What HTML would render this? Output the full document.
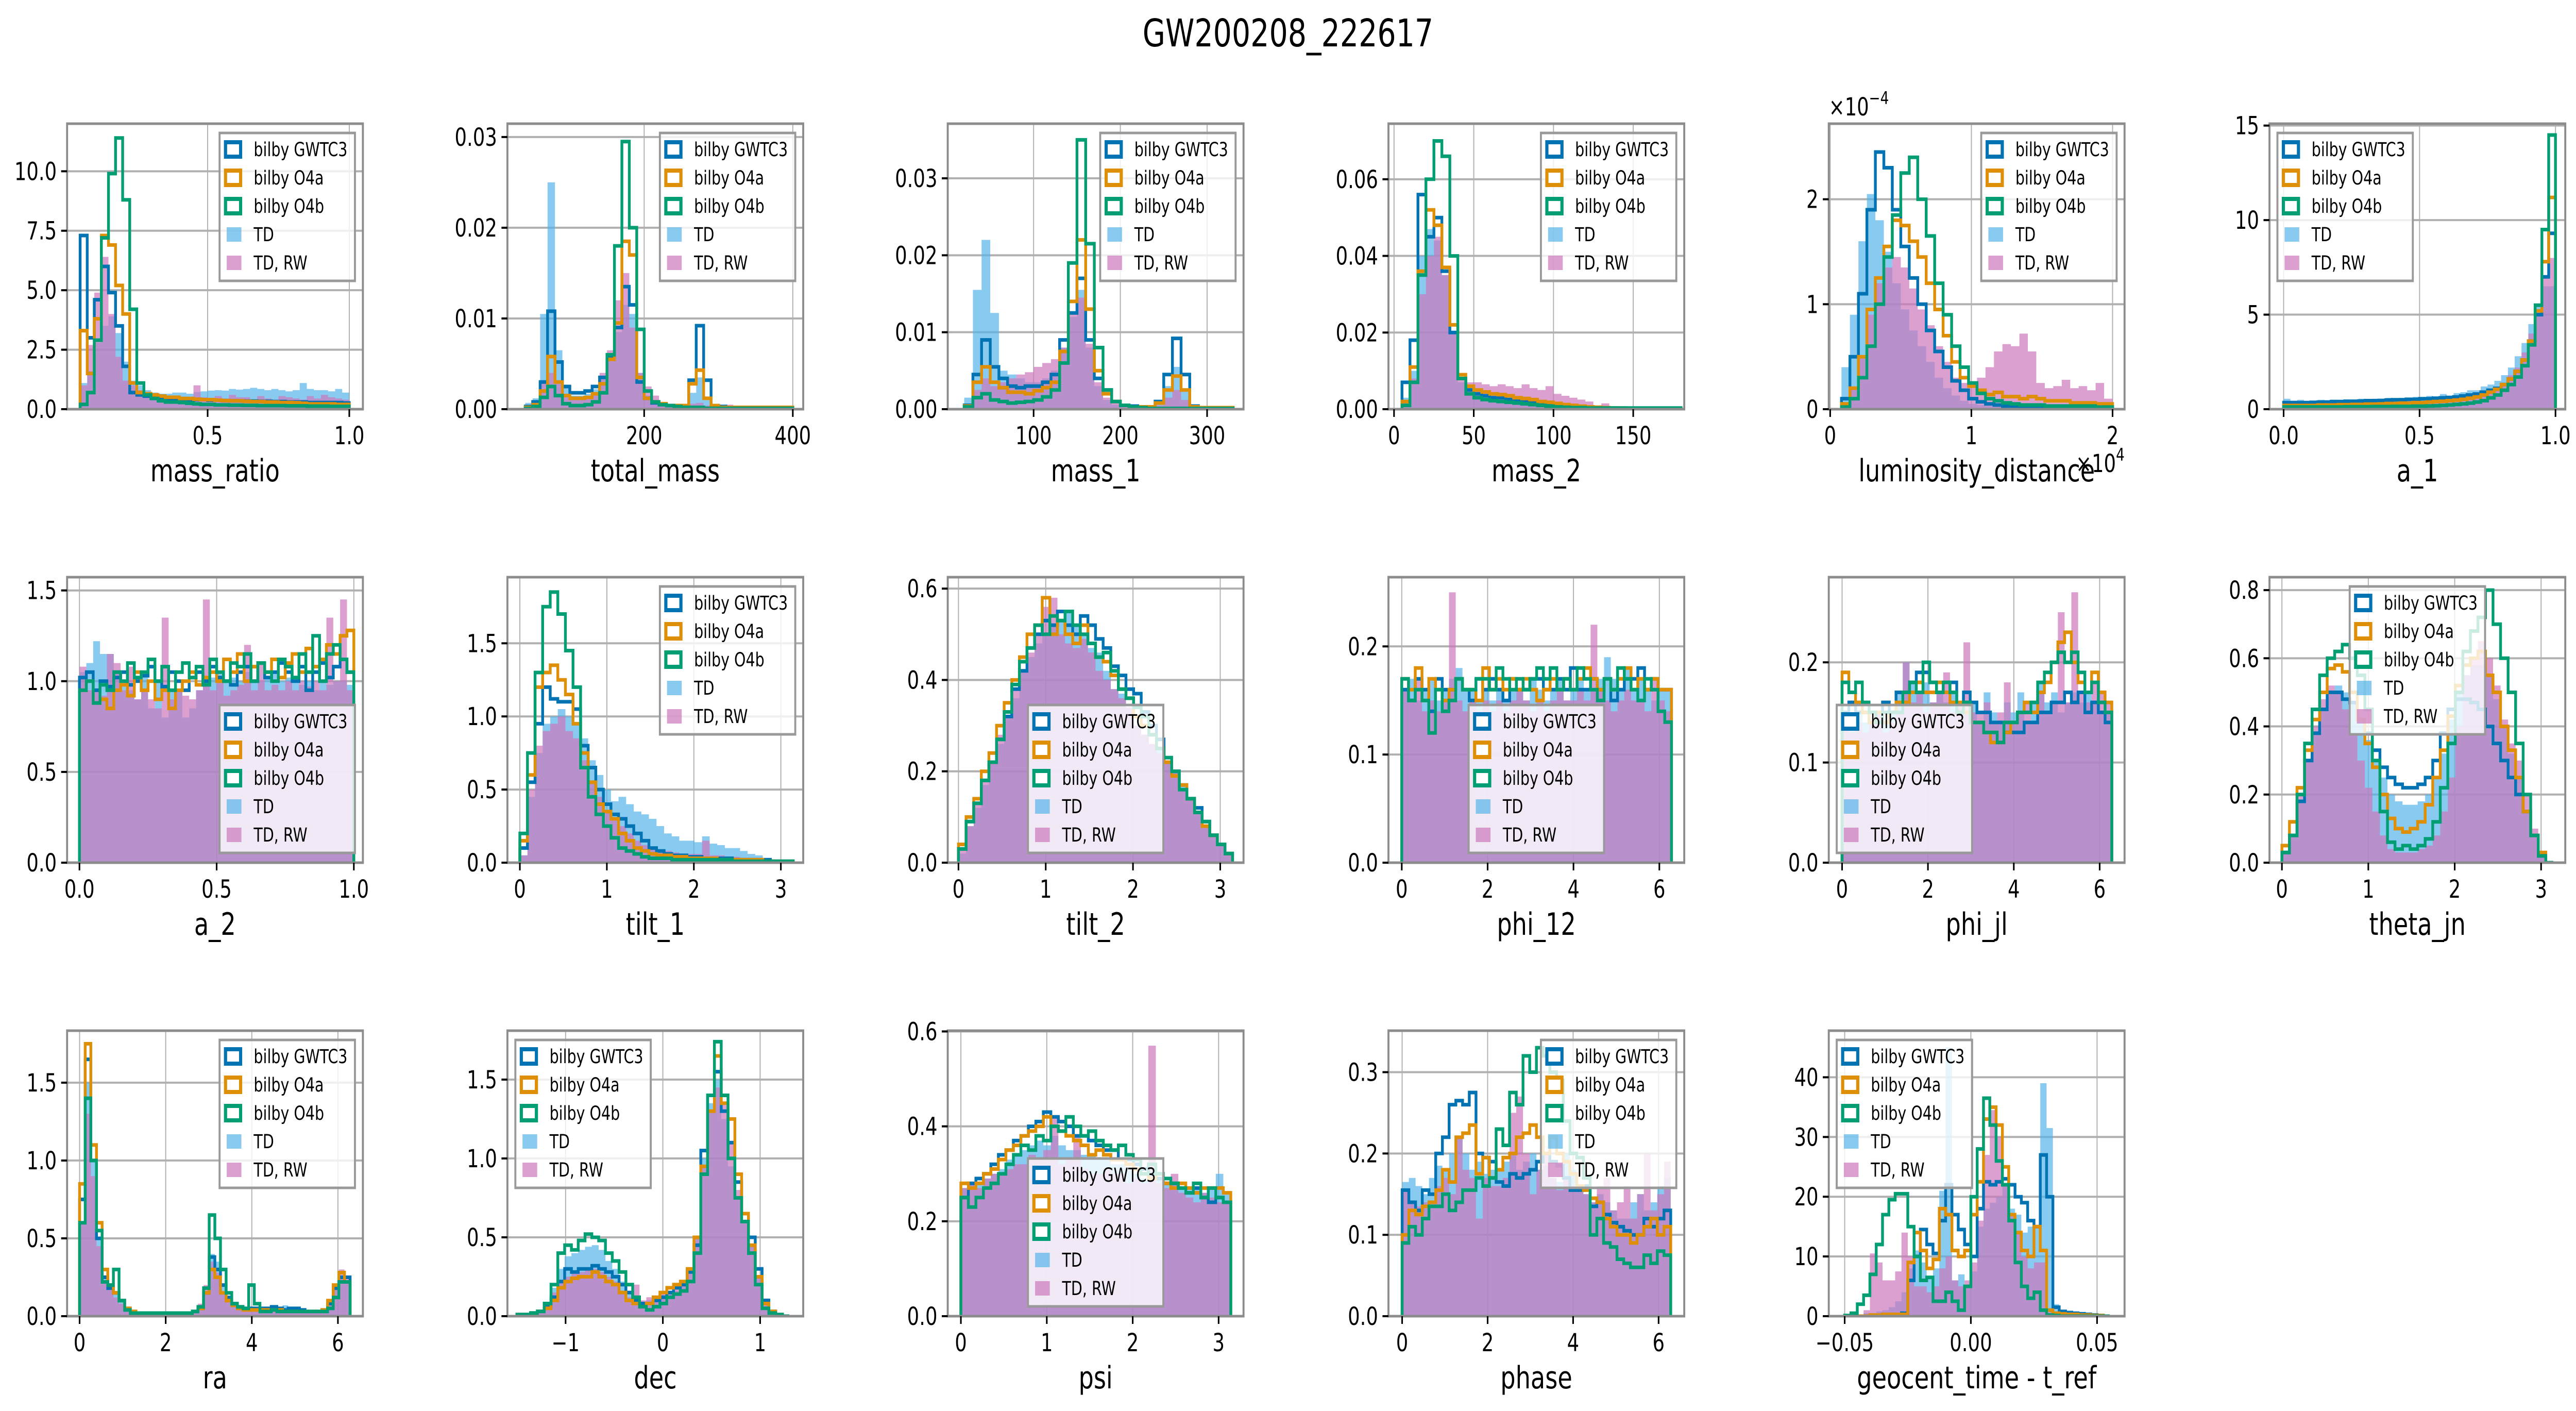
<!DOCTYPE html>
<html>
<head>
<meta charset="utf-8">
<style>
html,body{margin:0;padding:0;background:#fff;width:100%;height:100%;overflow:hidden;}
svg{display:block;width:100vw;height:100vh;}
text{font-family:"DejaVu Sans","Liberation Sans",sans-serif;}
</style>
</head>
<body>
<svg id="fig" xmlns="http://www.w3.org/2000/svg" viewBox="0 0 6488 2738" preserveAspectRatio="none">
<rect x="0" y="0" width="6488" height="2738" fill="#ffffff"/>
<text x="3244" y="90" font-size="74" text-anchor="middle" fill="#000">GW200208_222617</text>
</svg>
<script>
// ---------- data (histogram densities per bin) ----------
const massRatio_GWTC3=[7.3,3.0,4.6,6.0,4.9,3.5,1.8,0.7,0.6,0.55,0.5,0.5,0.45,0.45,0.42,0.4,0.4,0.4,0.38,0.38,0.36,0.35,0.35,0.34,0.34,0.33,0.33,0.32,0.32,0.3,0.3,0.3,0.28,0.28,0.28,0.28,0.28,0.26];
const massRatio_O4a=[3.3,1.5,3.8,7.3,6.9,5.2,4.0,1.1,0.7,0.65,0.6,0.55,0.5,0.5,0.45,0.45,0.42,0.4,0.4,0.38,0.36,0.35,0.35,0.33,0.32,0.32,0.3,0.3,0.28,0.28,0.27,0.25,0.22,0.22,0.22,0.22,0.2,0.2];
const massRatio_O4b=[0.2,0.7,2.9,7.2,9.9,11.4,8.8,4.2,1.1,0.6,0.45,0.35,0.3,0.3,0.28,0.25,0.22,0.2,0.2,0.18,0.18,0.17,0.17,0.16,0.16,0.15,0.15,0.15,0.15,0.14,0.14,0.14,0.13,0.13,0.13,0.12,0.12,0.12];
const massRatio_TD=[1.1,1.6,2.8,3.5,3.9,3.2,2.0,1.2,1.0,0.8,0.7,0.65,0.65,0.7,0.7,0.65,0.72,0.75,0.78,0.8,0.78,0.85,0.82,0.85,0.9,0.85,0.8,0.85,0.8,0.75,0.8,1.1,0.85,0.8,0.8,0.75,0.85,0.7];
const massRatio_TDRW=[1.0,2.7,4.9,6.4,4.0,2.2,1.2,1.0,0.8,0.7,0.6,0.5,0.5,0.55,0.5,0.45,1.0,0.5,0.45,0.55,0.45,0.6,0.5,0.5,0.4,0.55,0.45,0.4,0.55,0.5,0.45,0.4,0.55,0.45,0.6,0.5,0.45,0.4];

const totalMass_GWTC3=[0.0003,0.0008,0.003,0.0108,0.0052,0.0025,0.0018,0.0018,0.002,0.0025,0.0035,0.0058,0.009,0.0135,0.0115,0.003,0.0012,0.0007,0.0005,0.0004,0.0003,0.0004,0.0032,0.0092,0.0032,0.0004,0.0003,0.0002,0.0002,0.0002,0.0002,0.0002,0.0002,0.0002,0.0002,0.0002];
const totalMass_O4a=[0.0002,0.0005,0.002,0.0058,0.003,0.0015,0.0012,0.0012,0.0013,0.0017,0.0028,0.0055,0.0095,0.0185,0.017,0.0035,0.0012,0.0008,0.0006,0.0004,0.0004,0.0004,0.0028,0.0043,0.0012,0.0004,0.0002,0.0002,0.0002,0.0002,0.0002,0.0002,0.0002,0.0002,0.0002,0.0002];
const totalMass_O4b=[0.0001,0.0003,0.0013,0.0025,0.0015,0.0006,0.0004,0.0004,0.0005,0.0008,0.0018,0.006,0.018,0.0295,0.02,0.0088,0.002,0.0008,0.0005,0.0004,0.0003,0.0002,0.0002,0.0002,0.0001,0.0001,0.0001,0.0001,0.0001,0.0001,0.0001,0.0001,0.0001,0.0001,0.0001,0.0001];
const totalMass_TD=[0.0007,0.0012,0.0105,0.025,0.0065,0.0025,0.0015,0.0015,0.0017,0.0022,0.0035,0.006,0.0085,0.0115,0.0105,0.004,0.0015,0.001,0.0007,0.0005,0.0004,0.0004,0.0018,0.0035,0.001,0.0004,0.0002,0.0002,0.0002,0.0002,0.0002,0.0002,0.0002,0.0002,0.0002,0.0002];
const totalMass_TDRW=[0.0002,0.0005,0.003,0.004,0.003,0.0013,0.001,0.001,0.0012,0.0018,0.004,0.0065,0.012,0.015,0.009,0.004,0.0025,0.0015,0.0008,0.0006,0.0006,0.0004,0.0006,0.0007,0.0004,0.0003,0.0002,0.0005,0.0004,0.0002,0.0002,0.0002,0.0002,0.0002,0.0002,0.0002];

const mass1_GWTC3=[0.0005,0.0045,0.009,0.0055,0.004,0.003,0.0028,0.003,0.003,0.0035,0.0045,0.009,0.0125,0.017,0.009,0.004,0.0025,0.001,0.0005,0.0004,0.0003,0.0003,0.001,0.0045,0.0092,0.0045,0.0004,0.0002,0.0002,0.0002,0.0002];
const mass1_O4a=[0.0004,0.0035,0.0055,0.0035,0.0028,0.0022,0.0022,0.002,0.0024,0.0028,0.0035,0.0075,0.014,0.022,0.013,0.005,0.002,0.001,0.0005,0.0003,0.0003,0.0003,0.0008,0.0025,0.0043,0.0025,0.0003,0.0002,0.0002,0.0002,0.0002];
const mass1_O4b=[0.0003,0.0015,0.002,0.0012,0.001,0.0008,0.0009,0.001,0.0012,0.0016,0.0025,0.006,0.019,0.035,0.0215,0.008,0.0025,0.001,0.0005,0.0003,0.0002,0.0001,0.0001,0.0001,0.0001,0.0001,0.0001,0.0001,0.0001,0.0001,0.0001];
const mass1_TD=[0.0015,0.0155,0.022,0.0125,0.005,0.0045,0.004,0.0035,0.0035,0.004,0.005,0.008,0.012,0.0155,0.008,0.003,0.0012,0.0006,0.0004,0.0003,0.0003,0.0003,0.0008,0.003,0.0055,0.0025,0.0003,0.0002,0.0002,0.0002,0.0002];
const mass1_TDRW=[0.0004,0.0025,0.004,0.003,0.0035,0.004,0.0045,0.0048,0.0055,0.006,0.0065,0.008,0.0125,0.0145,0.0085,0.0035,0.0015,0.0008,0.0006,0.0004,0.0003,0.0003,0.0005,0.0015,0.0025,0.0012,0.0003,0.0002,0.0002,0.0002,0.0002];

const mass2_GWTC3=[0.007,0.018,0.056,0.045,0.05,0.036,0.02,0.008,0.005,0.004,0.0035,0.003,0.003,0.0025,0.0025,0.002,0.002,0.0018,0.0015,0.0012,0.001,0.0008,0.0006,0.0005,0.0004,0.0003,0.0003,0.0002,0.0002,0.0002,0.0002,0.0001,0.0001,0.0001,0.0001];
const mass2_O4a=[0.002,0.011,0.036,0.052,0.048,0.037,0.022,0.009,0.006,0.005,0.0045,0.004,0.0038,0.0035,0.003,0.0028,0.0025,0.002,0.0018,0.0015,0.0012,0.001,0.0008,0.0006,0.0005,0.0004,0.0003,0.0003,0.0002,0.0002,0.0002,0.0001,0.0001,0.0001,0.0001];
const mass2_O4b=[0.001,0.007,0.035,0.06,0.07,0.066,0.04,0.008,0.004,0.003,0.0025,0.0022,0.002,0.0018,0.0016,0.0014,0.0012,0.001,0.0008,0.0006,0.0005,0.0004,0.0004,0.0003,0.0003,0.0003,0.0003,0.0003,0.0003,0.0003,0.0003,0.0003,0.0003,0.0003,0.0003];
const mass2_TD=[0.003,0.01,0.04,0.047,0.044,0.035,0.02,0.007,0.004,0.0035,0.003,0.003,0.0028,0.0025,0.0025,0.002,0.0018,0.0015,0.0012,0.001,0.0008,0.0006,0.0005,0.0004,0.0003,0.0003,0.0002,0.0002,0.0002,0.0001,0.0001,0.0001,0.0001,0.0001,0.0001];
const mass2_TDRW=[0.002,0.008,0.03,0.04,0.045,0.035,0.02,0.008,0.007,0.007,0.0065,0.006,0.0065,0.006,0.0055,0.0065,0.0055,0.005,0.006,0.004,0.0035,0.003,0.0025,0.002,0.001,0.0015,0.0005,0.0004,0.0003,0.0002,0.0001,0.0001,0.0001,0.0001,0.0001];

const lumDist_GWTC3=[0.1,0.5,1.1,1.9,2.45,2.3,1.9,1.55,1.25,1.0,0.75,0.55,0.4,0.27,0.18,0.1,0.07,0.05,0.04,0.03,0.03,0.02,0.02,0.02,0.02,0.02,0.02,0.02,0.02,0.02,0.02,0.02];
const lumDist_O4a=[0.05,0.2,0.5,0.95,1.25,1.55,1.8,1.75,1.6,1.45,1.2,0.95,0.7,0.45,0.3,0.22,0.18,0.14,0.16,0.12,0.12,0.1,0.12,0.1,0.08,0.08,0.08,0.06,0.06,0.06,0.05,0.05];
const lumDist_O4b=[0.02,0.1,0.3,0.6,1.0,1.45,1.85,2.25,2.4,2.0,1.65,1.2,0.9,0.6,0.4,0.25,0.15,0.1,0.08,0.06,0.05,0.04,0.04,0.04,0.03,0.03,0.03,0.03,0.03,0.03,0.02,0.02];
const lumDist_TD=[0.4,0.9,1.6,2.05,1.8,1.5,1.2,0.95,0.75,0.6,0.45,0.3,0.2,0.13,0.08,0.05,0.04,0.03,0.03,0.02,0.02,0.02,0.02,0.02,0.02,0.02,0.02,0.02,0.02,0.02,0.02,0.02];
const lumDist_TDRW=[0.05,0.2,0.5,0.9,1.2,1.35,1.45,1.35,1.15,0.95,0.8,0.6,0.45,0.3,0.25,0.22,0.3,0.4,0.55,0.62,0.6,0.72,0.55,0.25,0.2,0.22,0.28,0.2,0.22,0.18,0.25,0.1];

const a1_GWTC3=[0.35,0.35,0.35,0.35,0.36,0.37,0.38,0.4,0.4,0.42,0.42,0.43,0.45,0.45,0.46,0.48,0.5,0.5,0.52,0.52,0.55,0.55,0.58,0.6,0.62,0.65,0.7,0.75,0.8,0.9,1.0,1.1,1.3,1.6,2.0,2.6,3.6,5.0,7.0,9.3];
const a1_O4a=[0.2,0.2,0.2,0.2,0.2,0.22,0.22,0.22,0.24,0.24,0.25,0.25,0.27,0.27,0.28,0.3,0.3,0.32,0.32,0.35,0.35,0.38,0.4,0.42,0.45,0.48,0.52,0.58,0.65,0.75,0.9,1.05,1.3,1.6,2.0,2.6,3.6,5.2,7.8,11.2];
const a1_O4b=[0.12,0.12,0.12,0.12,0.12,0.12,0.12,0.12,0.12,0.13,0.13,0.13,0.13,0.14,0.14,0.14,0.15,0.15,0.15,0.16,0.16,0.17,0.18,0.2,0.22,0.25,0.28,0.32,0.38,0.45,0.6,0.75,1.0,1.3,1.7,2.3,3.4,5.5,9.5,14.5];
const a1_TD=[0.55,0.45,0.5,0.4,0.45,0.5,0.45,0.5,0.45,0.5,0.5,0.55,0.5,0.55,0.5,0.6,0.55,0.6,0.55,0.65,0.6,0.7,0.65,0.8,0.7,0.85,0.9,1.0,1.0,1.2,1.3,1.5,1.8,2.2,2.8,3.5,4.5,5.5,6.5,6.5];
const a1_TDRW=[0.2,0.3,0.2,0.25,0.2,0.25,0.2,0.25,0.2,0.3,0.25,0.3,0.25,0.3,0.3,0.35,0.3,0.35,0.3,0.4,0.35,0.4,0.4,0.45,0.45,0.5,0.55,0.6,0.65,0.75,0.9,1.1,1.4,1.8,2.2,3.0,4.0,5.0,7.0,8.0];

const a2_GWTC3=[1.02,1.05,0.95,1.0,0.97,1.02,1.05,0.98,1.0,1.03,1.08,1.0,0.97,1.05,1.0,0.95,1.02,1.05,1.0,1.08,1.02,1.0,0.98,1.05,1.08,1.0,1.1,1.02,1.05,1.1,1.05,1.0,1.08,0.95,1.05,1.1,1.02,1.08,1.12,1.05];
const a2_O4a=[0.95,1.0,0.88,0.9,0.85,0.95,0.98,0.92,1.05,0.95,1.0,0.9,0.95,0.85,0.95,1.0,1.05,0.98,1.02,1.05,1.0,1.12,1.05,1.15,1.0,1.08,1.1,1.05,1.12,1.02,1.1,1.15,1.05,1.18,1.08,1.12,1.2,1.15,1.25,1.28];
const a2_O4b=[0.95,1.0,0.88,0.98,0.95,1.05,1.0,1.1,1.02,1.05,1.12,1.0,1.08,0.95,1.05,1.1,1.02,1.08,0.98,1.12,1.05,1.0,1.1,1.08,1.15,1.0,1.1,1.05,1.0,1.12,1.08,1.02,1.15,1.05,1.25,1.0,1.15,1.2,1.12,1.05];
const a2_TD=[1.05,1.1,1.22,1.15,1.15,1.05,1.0,0.95,0.9,1.02,0.85,1.0,0.8,0.95,0.95,0.8,0.85,0.95,1.0,1.02,1.05,1.0,1.02,1.0,1.05,1.0,1.0,1.02,1.05,1.0,1.02,1.0,0.98,1.0,0.95,1.0,0.98,1.0,1.0,0.98];
const a2_TDRW=[1.08,0.95,0.95,0.92,1.15,1.1,0.95,1.08,0.9,0.95,0.9,0.85,1.35,0.9,0.95,0.92,0.9,0.95,1.45,0.95,1.0,0.92,0.95,0.98,1.2,0.95,1.1,0.95,0.98,0.95,1.0,0.95,1.0,0.97,1.0,0.95,1.35,1.0,1.45,0.95];

const tilt1_GWTC3=[0.1,0.55,0.95,1.2,1.12,1.1,1.1,1.05,0.8,0.65,0.5,0.4,0.33,0.3,0.25,0.2,0.15,0.1,0.08,0.06,0.05,0.05,0.04,0.04,0.03,0.03,0.03,0.03,0.02,0.02,0.02,0.02,0.02,0.01,0.01,0.01];
const tilt1_O4a=[0.15,0.6,1.2,1.3,1.35,1.25,1.15,0.95,0.75,0.55,0.4,0.35,0.3,0.2,0.15,0.1,0.08,0.06,0.05,0.05,0.04,0.04,0.03,0.03,0.03,0.03,0.02,0.02,0.02,0.02,0.02,0.02,0.01,0.01,0.01,0.01];
const tilt1_O4b=[0.2,0.75,1.3,1.75,1.85,1.7,1.45,1.2,0.65,0.45,0.33,0.25,0.17,0.1,0.08,0.06,0.04,0.03,0.03,0.03,0.02,0.02,0.02,0.02,0.02,0.02,0.02,0.02,0.01,0.01,0.01,0.01,0.01,0.01,0.01,0.01];
const tilt1_TD=[0.05,0.45,0.75,0.95,1.0,1.05,1.0,0.95,0.85,0.7,0.6,0.5,0.42,0.45,0.4,0.35,0.33,0.3,0.25,0.2,0.18,0.15,0.15,0.14,0.18,0.13,0.12,0.1,0.1,0.08,0.06,0.05,0.03,0.02,0.01,0.01];
const tilt1_TDRW=[0.05,0.5,0.8,0.9,0.95,1.0,0.9,0.85,0.7,0.55,0.45,0.35,0.3,0.25,0.2,0.15,0.12,0.1,0.08,0.08,0.07,0.06,0.06,0.06,0.15,0.05,0.05,0.04,0.04,0.03,0.03,0.02,0.02,0.01,0.01,0.01];

const tilt2_GWTC3=[0.03,0.09,0.13,0.18,0.22,0.27,0.32,0.38,0.42,0.47,0.5,0.53,0.52,0.55,0.52,0.5,0.54,0.52,0.49,0.47,0.43,0.41,0.38,0.37,0.33,0.3,0.27,0.22,0.2,0.17,0.14,0.12,0.09,0.06,0.04,0.02];
const tilt2_O4a=[0.04,0.1,0.14,0.2,0.24,0.3,0.35,0.4,0.45,0.5,0.52,0.58,0.5,0.53,0.5,0.48,0.52,0.48,0.45,0.44,0.41,0.38,0.36,0.32,0.3,0.28,0.25,0.22,0.19,0.17,0.14,0.11,0.08,0.06,0.04,0.02];
const tilt2_O4b=[0.03,0.09,0.13,0.18,0.22,0.27,0.33,0.39,0.44,0.47,0.52,0.5,0.54,0.53,0.55,0.52,0.5,0.48,0.45,0.46,0.42,0.38,0.36,0.34,0.32,0.28,0.25,0.23,0.2,0.16,0.14,0.11,0.09,0.06,0.04,0.02];
const tilt2_TD=[0.02,0.08,0.12,0.17,0.22,0.26,0.32,0.36,0.42,0.45,0.48,0.5,0.52,0.53,0.55,0.52,0.5,0.47,0.46,0.42,0.38,0.37,0.34,0.3,0.28,0.26,0.25,0.22,0.2,0.17,0.14,0.11,0.08,0.06,0.04,0.02];
const tilt2_TDRW=[0.03,0.08,0.13,0.18,0.22,0.28,0.32,0.38,0.42,0.46,0.5,0.56,0.58,0.5,0.48,0.47,0.49,0.46,0.42,0.4,0.38,0.36,0.34,0.3,0.28,0.26,0.24,0.22,0.2,0.16,0.14,0.11,0.08,0.06,0.04,0.02];

const phi12_GWTC3=[0.16,0.15,0.17,0.16,0.14,0.17,0.16,0.16,0.17,0.16,0.15,0.17,0.16,0.17,0.16,0.15,0.17,0.16,0.16,0.17,0.17,0.16,0.16,0.17,0.16,0.18,0.16,0.16,0.17,0.16,0.17,0.15,0.16,0.17,0.17,0.18,0.16,0.17,0.16,0.16];
const phi12_O4a=[0.17,0.16,0.18,0.15,0.17,0.16,0.15,0.16,0.17,0.16,0.16,0.15,0.18,0.16,0.17,0.16,0.17,0.16,0.17,0.16,0.15,0.16,0.17,0.16,0.17,0.16,0.17,0.18,0.17,0.16,0.17,0.16,0.17,0.18,0.16,0.17,0.16,0.17,0.16,0.16];
const phi12_O4b=[0.17,0.15,0.16,0.15,0.12,0.16,0.14,0.15,0.17,0.16,0.16,0.17,0.17,0.16,0.18,0.17,0.16,0.17,0.16,0.17,0.18,0.17,0.18,0.16,0.17,0.16,0.18,0.17,0.16,0.15,0.17,0.16,0.18,0.17,0.16,0.15,0.17,0.16,0.14,0.13];
const phi12_TD=[0.16,0.17,0.15,0.16,0.17,0.15,0.16,0.17,0.18,0.16,0.16,0.15,0.16,0.15,0.16,0.15,0.16,0.16,0.15,0.17,0.16,0.15,0.16,0.17,0.15,0.16,0.17,0.16,0.16,0.17,0.19,0.17,0.16,0.18,0.16,0.17,0.16,0.15,0.16,0.16];
const phi12_TDRW=[0.16,0.15,0.17,0.14,0.15,0.14,0.15,0.25,0.15,0.14,0.15,0.14,0.15,0.14,0.15,0.14,0.15,0.16,0.15,0.14,0.15,0.14,0.15,0.16,0.15,0.15,0.16,0.15,0.22,0.16,0.15,0.14,0.15,0.16,0.15,0.15,0.14,0.17,0.15,0.14];

const phiJL_GWTC3=[0.15,0.16,0.15,0.15,0.14,0.15,0.16,0.15,0.17,0.17,0.18,0.19,0.19,0.18,0.17,0.17,0.18,0.16,0.17,0.16,0.15,0.15,0.14,0.14,0.13,0.13,0.13,0.14,0.14,0.15,0.15,0.16,0.16,0.17,0.16,0.17,0.15,0.16,0.15,0.14];
const phiJL_O4a=[0.19,0.17,0.16,0.15,0.14,0.15,0.14,0.15,0.16,0.16,0.17,0.18,0.17,0.17,0.18,0.17,0.16,0.16,0.15,0.14,0.14,0.13,0.12,0.12,0.13,0.14,0.15,0.16,0.15,0.17,0.18,0.2,0.22,0.23,0.2,0.18,0.17,0.19,0.17,0.16];
const phiJL_O4b=[0.18,0.17,0.18,0.16,0.15,0.14,0.15,0.15,0.15,0.17,0.18,0.17,0.2,0.18,0.17,0.18,0.17,0.15,0.16,0.14,0.14,0.13,0.13,0.12,0.14,0.14,0.15,0.15,0.16,0.18,0.19,0.2,0.21,0.2,0.21,0.19,0.17,0.18,0.16,0.15];
const phiJL_TD=[0.15,0.14,0.15,0.14,0.14,0.15,0.14,0.15,0.17,0.2,0.18,0.17,0.18,0.16,0.17,0.16,0.17,0.16,0.15,0.16,0.14,0.17,0.15,0.14,0.16,0.15,0.17,0.14,0.16,0.18,0.16,0.17,0.15,0.16,0.17,0.16,0.17,0.16,0.15,0.15];
const phiJL_TDRW=[0.14,0.13,0.14,0.13,0.14,0.15,0.13,0.14,0.15,0.2,0.16,0.17,0.15,0.16,0.17,0.19,0.15,0.16,0.22,0.15,0.15,0.16,0.14,0.15,0.18,0.14,0.15,0.16,0.14,0.17,0.15,0.16,0.25,0.16,0.27,0.17,0.16,0.18,0.17,0.16];

const thetaJN_GWTC3=[0.03,0.08,0.18,0.3,0.38,0.45,0.5,0.5,0.48,0.47,0.42,0.38,0.33,0.28,0.25,0.23,0.22,0.22,0.23,0.25,0.3,0.38,0.45,0.48,0.48,0.47,0.45,0.4,0.35,0.3,0.25,0.2,0.15,0.08,0.02,0.0];
const thetaJN_O4a=[0.05,0.12,0.22,0.33,0.42,0.5,0.57,0.58,0.56,0.5,0.42,0.35,0.28,0.2,0.13,0.1,0.09,0.1,0.12,0.17,0.25,0.33,0.43,0.52,0.58,0.6,0.62,0.55,0.5,0.4,0.33,0.25,0.15,0.08,0.03,0.0];
const thetaJN_O4b=[0.03,0.08,0.2,0.35,0.45,0.55,0.6,0.62,0.64,0.6,0.55,0.45,0.3,0.15,0.06,0.04,0.05,0.04,0.05,0.07,0.12,0.22,0.35,0.5,0.62,0.68,0.72,0.8,0.7,0.6,0.5,0.35,0.2,0.08,0.02,0.0];
const thetaJN_TD=[0.03,0.08,0.18,0.3,0.38,0.45,0.5,0.52,0.5,0.47,0.42,0.36,0.3,0.25,0.2,0.18,0.17,0.17,0.18,0.2,0.25,0.32,0.42,0.5,0.55,0.58,0.58,0.55,0.48,0.4,0.32,0.25,0.15,0.08,0.02,0.0];
const thetaJN_TDRW=[0.03,0.08,0.2,0.3,0.4,0.48,0.52,0.5,0.45,0.38,0.3,0.22,0.15,0.08,0.04,0.03,0.03,0.03,0.04,0.05,0.08,0.15,0.25,0.4,0.55,0.6,0.65,0.6,0.52,0.42,0.35,0.3,0.2,0.1,0.03,0.0];

const ra_GWTC3=[0.75,1.65,1.0,0.5,0.25,0.18,0.15,0.1,0.05,0.03,0.02,0.02,0.02,0.02,0.02,0.02,0.02,0.02,0.02,0.02,0.03,0.05,0.15,0.38,0.3,0.2,0.12,0.08,0.06,0.05,0.05,0.05,0.05,0.05,0.06,0.05,0.04,0.05,0.05,0.04,0.03,0.03,0.03,0.04,0.08,0.18,0.25,0.25];
const ra_O4a=[0.85,1.75,1.1,0.6,0.3,0.2,0.15,0.1,0.05,0.03,0.02,0.02,0.02,0.02,0.02,0.02,0.02,0.02,0.02,0.02,0.03,0.05,0.15,0.3,0.25,0.15,0.1,0.07,0.05,0.04,0.04,0.04,0.04,0.04,0.04,0.04,0.03,0.03,0.03,0.03,0.03,0.03,0.03,0.04,0.1,0.2,0.28,0.22];
const ra_O4b=[0.6,1.4,1.0,0.55,0.22,0.2,0.3,0.1,0.04,0.02,0.02,0.02,0.02,0.02,0.02,0.02,0.02,0.02,0.02,0.02,0.03,0.06,0.18,0.65,0.5,0.3,0.15,0.08,0.06,0.05,0.2,0.08,0.03,0.03,0.04,0.03,0.03,0.03,0.03,0.03,0.03,0.03,0.03,0.03,0.05,0.12,0.22,0.22];
const ra_TD=[0.6,1.5,1.0,0.5,0.25,0.2,0.15,0.1,0.05,0.03,0.02,0.02,0.02,0.02,0.02,0.02,0.02,0.02,0.02,0.02,0.03,0.06,0.15,0.4,0.35,0.2,0.12,0.08,0.06,0.05,0.05,0.05,0.05,0.06,0.07,0.06,0.07,0.05,0.04,0.03,0.03,0.03,0.04,0.05,0.1,0.2,0.25,0.22];
const ra_TDRW=[0.6,1.3,0.9,0.45,0.22,0.18,0.12,0.08,0.05,0.03,0.03,0.02,0.02,0.02,0.02,0.02,0.02,0.02,0.02,0.02,0.03,0.08,0.2,0.35,0.28,0.15,0.1,0.07,0.05,0.04,0.04,0.04,0.04,0.04,0.04,0.04,0.04,0.03,0.03,0.03,0.03,0.03,0.03,0.04,0.1,0.2,0.3,0.25];

const dec_GWTC3=[0.01,0.01,0.02,0.03,0.06,0.12,0.22,0.3,0.28,0.3,0.3,0.32,0.3,0.28,0.25,0.2,0.15,0.1,0.08,0.08,0.1,0.12,0.15,0.18,0.2,0.28,0.45,1.05,1.4,1.55,1.3,1.1,0.85,0.65,0.5,0.3,0.1,0.03,0.01,0.0];
const dec_O4a=[0.01,0.01,0.02,0.03,0.05,0.1,0.18,0.22,0.24,0.25,0.25,0.28,0.25,0.22,0.2,0.15,0.1,0.08,0.06,0.08,0.12,0.15,0.18,0.2,0.22,0.3,0.5,0.95,1.3,1.65,1.35,1.25,0.9,0.65,0.45,0.25,0.08,0.03,0.01,0.0];
const dec_O4b=[0.01,0.01,0.02,0.03,0.08,0.2,0.4,0.45,0.42,0.48,0.52,0.5,0.48,0.4,0.35,0.28,0.2,0.12,0.06,0.04,0.06,0.08,0.12,0.14,0.16,0.22,0.4,0.9,1.4,1.74,1.4,1.0,0.75,0.6,0.4,0.2,0.05,0.02,0.01,0.0];
const dec_TD=[0.01,0.01,0.02,0.04,0.08,0.18,0.3,0.38,0.4,0.42,0.44,0.45,0.42,0.35,0.3,0.22,0.15,0.1,0.09,0.1,0.11,0.12,0.14,0.16,0.2,0.28,0.5,1.0,1.35,1.5,1.25,0.95,0.75,0.6,0.45,0.25,0.08,0.03,0.01,0.0];
const dec_TDRW=[0.01,0.01,0.02,0.03,0.06,0.15,0.22,0.25,0.27,0.28,0.3,0.3,0.28,0.25,0.22,0.15,0.12,0.2,0.1,0.12,0.13,0.14,0.15,0.17,0.2,0.3,0.5,0.95,1.3,1.45,1.35,1.1,0.8,0.6,0.45,0.25,0.08,0.03,0.01,0.0];

const psi_GWTC3=[0.25,0.28,0.29,0.3,0.32,0.34,0.35,0.37,0.38,0.4,0.41,0.43,0.42,0.41,0.4,0.38,0.38,0.37,0.36,0.35,0.35,0.33,0.33,0.32,0.31,0.3,0.29,0.28,0.28,0.27,0.26,0.27,0.25,0.24,0.25,0.24];
const psi_O4a=[0.28,0.27,0.28,0.3,0.31,0.33,0.35,0.36,0.38,0.39,0.4,0.42,0.4,0.39,0.38,0.37,0.36,0.34,0.35,0.34,0.33,0.33,0.32,0.31,0.3,0.29,0.3,0.28,0.27,0.28,0.27,0.26,0.27,0.27,0.27,0.26];
const psi_O4b=[0.25,0.23,0.25,0.27,0.28,0.3,0.32,0.34,0.36,0.35,0.38,0.37,0.4,0.39,0.42,0.4,0.38,0.39,0.37,0.36,0.35,0.36,0.34,0.33,0.3,0.32,0.3,0.29,0.28,0.27,0.26,0.28,0.25,0.27,0.25,0.24];
const psi_TD=[0.27,0.28,0.28,0.29,0.3,0.31,0.33,0.34,0.35,0.36,0.37,0.36,0.38,0.36,0.35,0.35,0.34,0.34,0.33,0.33,0.32,0.32,0.31,0.3,0.29,0.3,0.29,0.28,0.28,0.27,0.27,0.27,0.26,0.27,0.3,0.26];
const psi_TDRW=[0.27,0.28,0.27,0.29,0.3,0.3,0.31,0.32,0.32,0.34,0.33,0.35,0.42,0.32,0.33,0.38,0.31,0.3,0.3,0.31,0.3,0.3,0.28,0.29,0.28,0.57,0.28,0.27,0.3,0.26,0.25,0.24,0.26,0.25,0.24,0.24];

const phase_GWTC3=[0.155,0.14,0.13,0.155,0.15,0.2,0.22,0.26,0.265,0.26,0.275,0.2,0.195,0.19,0.165,0.16,0.175,0.17,0.175,0.18,0.19,0.2,0.19,0.185,0.17,0.155,0.155,0.16,0.135,0.14,0.125,0.115,0.11,0.105,0.1,0.1,0.12,0.11,0.12,0.13];
const phase_O4a=[0.1,0.13,0.125,0.135,0.14,0.155,0.18,0.165,0.22,0.225,0.235,0.175,0.195,0.17,0.18,0.195,0.2,0.22,0.225,0.235,0.22,0.2,0.22,0.2,0.19,0.175,0.16,0.155,0.145,0.14,0.12,0.11,0.1,0.1,0.09,0.1,0.11,0.12,0.1,0.11];
const phase_O4b=[0.09,0.11,0.1,0.12,0.135,0.135,0.15,0.13,0.14,0.155,0.155,0.17,0.16,0.17,0.23,0.21,0.275,0.26,0.32,0.3,0.33,0.32,0.3,0.29,0.24,0.2,0.195,0.17,0.1,0.12,0.09,0.085,0.07,0.065,0.06,0.06,0.075,0.065,0.08,0.075];
const phase_TD=[0.165,0.17,0.16,0.15,0.17,0.185,0.18,0.2,0.22,0.2,0.18,0.19,0.175,0.18,0.18,0.19,0.2,0.18,0.19,0.2,0.18,0.185,0.17,0.165,0.2,0.18,0.16,0.15,0.14,0.15,0.14,0.13,0.12,0.12,0.14,0.15,0.13,0.14,0.16,0.17];
const phase_TDRW=[0.155,0.14,0.135,0.14,0.14,0.16,0.17,0.15,0.22,0.18,0.17,0.12,0.17,0.16,0.16,0.17,0.25,0.27,0.2,0.15,0.18,0.2,0.17,0.155,0.17,0.16,0.155,0.15,0.14,0.16,0.17,0.13,0.14,0.16,0.12,0.15,0.2,0.13,0.15,0.19];

const geocent_GWTC3=[0,0,0,0,0,0,0,0.2,0.3,0.5,6,10,14.5,12,10.5,16,22,17,14.5,12,10,18,22.5,22,22.5,23,22,20,19,16,15,27,20,1.5,0.8,0.6,0.5,0.4,0.3,0.2,0.1,0];
const geocent_O4a=[0,0,0,0,0.2,0.2,0.3,0.3,0.3,0.3,9,14,11,8,9.5,18,17,11,10,11,17,22.5,33,35,32,25,17,14,11,10,15,11,1,0.5,0.4,0.3,0.3,0.2,0.2,0.1,0.1,0];
const geocent_O4b=[0.1,0.5,2,3.5,7,12,17,19.5,20.5,20.5,15,10,6,6.5,2.5,2.5,4,2.5,1,5,20,28,36.5,32,26,22,16,9,5,3,4,1,0.2,0.1,0,0,0,0,0,0,0,0];
const geocent_TD=[0.1,0.2,0.3,0.5,0.5,0.8,1,1.5,2.5,4,8,11,9,6.5,8,21,45,6,7,5,7.5,15,18,19,20,22,18,17,14,15,15,39,31.5,2,1,0.8,0.6,0.5,0.4,0.3,0.2,0];
const geocent_TDRW=[0,0,0,1,10.5,9,6,6,7.5,14,10,5,5,4,5,8,10,6,5,6,9,16,27,34.5,30,22,17,14,10,8,9,9,1,0.5,0.3,0.2,0.2,0.1,0.1,0.1,0,0];

// tick values and labels
const ticks01=[0,0.5,1], ticks01Labels=["0.0","0.5","1.0"];
const ticks0to3=[0,1,2,3], ticks0to3Labels=["0","1","2","3"];
const ticks0to6=[0,2,4,6], ticks0to6Labels=["0","2","4","6"];
const yticksHalf=[0,0.5,1,1.5], yticksHalfLabels=["0.0","0.5","1.0","1.5"];
const seriesNames=["bilby GWTC3","bilby O4a","bilby O4b","TD","TD, RW"];

// ---------- layout ----------
const colL=[169,1278,2387,3497,4606,5716], rowT=[240,1120,2000], AW=745, AH=554;
const COL={b:"#0173B2",o:"#DE8F05",g:"#029E73",td:"#56B4E9",rw:"#CC78BC"};

const plots=[
 {id:"mass-ratio",label:"mass_ratio",c:0,r:0,xl:[0.004,1.048],yl:[0,12.0],lo:0.05,hi:1.0,d:[massRatio_GWTC3,massRatio_O4a,massRatio_O4b,massRatio_TD,massRatio_TDRW],xt:[0.5,1.0],xtl:["0.5","1.0"],yt:[0,2.5,5,7.5,10],ytl:["0.0","2.5","5.0","7.5","10.0"],leg:"ur"},
 {id:"total-mass",label:"total_mass",c:1,r:0,xl:[16,414],yl:[0,0.03147],lo:40,hi:400,d:[totalMass_GWTC3,totalMass_O4a,totalMass_O4b,totalMass_TD,totalMass_TDRW],xt:[200,400],xtl:["200","400"],yt:[0,0.01,0.02,0.03],ytl:["0.00","0.01","0.02","0.03"],leg:"ur"},
 {id:"mass-1",label:"mass_1",c:2,r:0,xl:[1,342],yl:[0,0.0371],lo:20,hi:330,d:[mass1_GWTC3,mass1_O4a,mass1_O4b,mass1_TD,mass1_TDRW],xt:[100,200,300],xtl:["100","200","300"],yt:[0,0.01,0.02,0.03],ytl:["0.00","0.01","0.02","0.03"],leg:"ur"},
 {id:"mass-2",label:"mass_2",c:3,r:0,xl:[-3.5,182],yl:[0,0.0745],lo:5,hi:180,d:[mass2_GWTC3,mass2_O4a,mass2_O4b,mass2_TD,mass2_TDRW],xt:[0,50,100,150],xtl:["0","50","100","150"],yt:[0,0.02,0.04,0.06],ytl:["0.00","0.02","0.04","0.06"],leg:"ur"},
 {id:"luminosity-distance",label:"luminosity_distance",c:4,r:0,xl:[-0.01,2.085],yl:[0,2.72],lo:0.08,hi:2.0,d:[lumDist_GWTC3,lumDist_O4a,lumDist_O4b,lumDist_TD,lumDist_TDRW],xt:[0,1,2],xtl:["0","1","2"],yt:[0,1,2],ytl:["0","1","2"],leg:"ur",sci:true},
 {id:"a-1",label:"a_1",c:5,r:0,xl:[-0.052,1.036],yl:[0,15.1],lo:0,hi:1,d:[a1_GWTC3,a1_O4a,a1_O4b,a1_TD,a1_TDRW],xt:ticks01,xtl:ticks01Labels,yt:[0,5,10,15],ytl:["0","5","10","15"],leg:"ul"},
 {id:"a-2",label:"a_2",c:0,r:1,xl:[-0.045,1.033],yl:[0,1.573],lo:0,hi:1,d:[a2_GWTC3,a2_O4a,a2_O4b,a2_TD,a2_TDRW],xt:ticks01,xtl:ticks01Labels,yt:yticksHalf,ytl:yticksHalfLabels,leg:"lr"},
 {id:"tilt-1",label:"tilt_1",c:1,r:1,xl:[-0.143,3.257],yl:[0,1.952],lo:0,hi:3.1416,d:[tilt1_GWTC3,tilt1_O4a,tilt1_O4b,tilt1_TD,tilt1_TDRW],xt:ticks0to3,xtl:ticks0to3Labels,yt:yticksHalf,ytl:yticksHalfLabels,leg:"ur"},
 {id:"tilt-2",label:"tilt_2",c:2,r:1,xl:[-0.123,3.267],yl:[0,0.625],lo:0,hi:3.1416,d:[tilt2_GWTC3,tilt2_O4a,tilt2_O4b,tilt2_TD,tilt2_TDRW],xt:ticks0to3,xtl:ticks0to3Labels,yt:[0,0.2,0.4,0.6],ytl:["0.0","0.2","0.4","0.6"],leg:"lc"},
 {id:"phi-12",label:"phi_12",c:3,r:1,xl:[-0.31,6.58],yl:[0,0.264],lo:0,hi:6.2832,d:[phi12_GWTC3,phi12_O4a,phi12_O4b,phi12_TD,phi12_TDRW],xt:ticks0to6,xtl:ticks0to6Labels,yt:[0,0.1,0.2],ytl:["0.0","0.1","0.2"],leg:"lc"},
 {id:"phi-jl",label:"phi_jl",c:4,r:1,xl:[-0.31,6.58],yl:[0,0.285],lo:0,hi:6.2832,d:[phiJL_GWTC3,phiJL_O4a,phiJL_O4b,phiJL_TD,phiJL_TDRW],xt:ticks0to6,xtl:ticks0to6Labels,yt:[0,0.1,0.2],ytl:["0.0","0.1","0.2"],leg:"ll"},
 {id:"theta-jn",label:"theta_jn",c:5,r:1,xl:[-0.144,3.28],yl:[0,0.838],lo:0,hi:3.1416,d:[thetaJN_GWTC3,thetaJN_O4a,thetaJN_O4b,thetaJN_TD,thetaJN_TDRW],xt:ticks0to3,xtl:ticks0to3Labels,yt:[0,0.2,0.4,0.6,0.8],ytl:["0.0","0.2","0.4","0.6","0.8"],leg:"uc"},
 {id:"ra",label:"ra",c:0,r:2,xl:[-0.29,6.58],yl:[0,1.834],lo:0,hi:6.2832,d:[ra_GWTC3,ra_O4a,ra_O4b,ra_TD,ra_TDRW],xt:ticks0to6,xtl:ticks0to6Labels,yt:yticksHalf,ytl:yticksHalfLabels,leg:"ur"},
 {id:"dec",label:"dec",c:1,r:2,xl:[-1.598,1.443],yl:[0,1.81],lo:-1.5,hi:1.3,d:[dec_GWTC3,dec_O4a,dec_O4b,dec_TD,dec_TDRW],xt:[-1,0,1],xtl:["\u22121","0","1"],yt:yticksHalf,ytl:yticksHalfLabels,leg:"ul"},
 {id:"psi",label:"psi",c:2,r:2,xl:[-0.153,3.29],yl:[0,0.6016],lo:0,hi:3.1416,d:[psi_GWTC3,psi_O4a,psi_O4b,psi_TD,psi_TDRW],xt:ticks0to3,xtl:ticks0to3Labels,yt:[0,0.2,0.4,0.6],ytl:["0.0","0.2","0.4","0.6"],leg:"lc"},
 {id:"phase",label:"phase",c:3,r:2,xl:[-0.32,6.6],yl:[0,0.351],lo:0,hi:6.2832,d:[phase_GWTC3,phase_O4a,phase_O4b,phase_TD,phase_TDRW],xt:ticks0to6,xtl:ticks0to6Labels,yt:[0,0.1,0.2,0.3],ytl:["0.0","0.1","0.2","0.3"],leg:"ur"},
 {id:"geocent-time",label:"geocent_time - t_ref",c:4,r:2,xl:[-0.0563,0.0609],yl:[0,47.8],lo:-0.05,hi:0.055,d:[geocent_GWTC3,geocent_O4a,geocent_O4b,geocent_TD,geocent_TDRW],xt:[-0.05,0,0.05],xtl:["\u22120.05","0.00","0.05"],yt:[0,10,20,30,40],ytl:["0","10","20","30","40"],leg:"ul"}
];

// ---------- drawing ----------
const NS="http://www.w3.org/2000/svg";
const svg=document.getElementById("fig");
function mk(tag,attrs,parent){const e=document.createElementNS(NS,tag);for(const k in attrs)e.setAttribute(k,attrs[k]);(parent||svg).appendChild(e);return e;}

plots.forEach(function(p){
  const L=colL[p.c], T=rowT[p.r], R=L+AW, B=T+AH;
  const sx=v=>L+(v-p.xl[0])/(p.xl[1]-p.xl[0])*AW;
  const sy=v=>B-(v-p.yl[0])/(p.yl[1]-p.yl[0])*AH;
  const g=mk("g",{});
  
  
  const cid="clip-"+p.id;
  const cp=mk("clipPath",{id:cid},g);
  mk("rect",{x:L,y:T,width:AW,height:AH},cp);
  p.yt.forEach(function(v){
    const gl=mk("line",{x1:L,x2:R,y1:sy(v),y2:sy(v),stroke:"#b0b0b0","stroke-width":4},g);
    
    
  });
  p.xt.forEach(function(v){
    const gl=mk("line",{x1:sx(v),x2:sx(v),y1:T,y2:B,stroke:"#b0b0b0","stroke-width":2.5},g);
    
    
  });
  const dg=mk("g",{"clip-path":"url(#"+cid+")"},g);
  function stepPts(arr){
    const n=arr.length, w=(p.hi-p.lo)/n; let pts=[[sx(p.lo),sy(0)]];
    for(let i=0;i<n;i++){const x0=sx(p.lo+i*w),x1=sx(p.lo+(i+1)*w),y=sy(arr[i]);pts.push([x0,y],[x1,y]);}
    pts.push([sx(p.hi),sy(0)]);
    return pts.map(q=>q[0].toFixed(1)+","+q[1].toFixed(1)).join(" ");
  }
  const fills=[[3,COL.td,"hist-td"],[4,COL.rw,"hist-td-rw"]];
  fills.forEach(function(f){
    const pg=mk("polygon",{points:stepPts(p.d[f[0]]),fill:f[1],"fill-opacity":0.7,stroke:"none"},dg);
    
    
  });
  const lines=[[0,COL.b,"hist-bilby-gwtc3"],[1,COL.o,"hist-bilby-o4a"],[2,COL.g,"hist-bilby-o4b"]];
  lines.forEach(function(f){
    const pl=mk("polyline",{points:stepPts(p.d[f[0]]),fill:"none",stroke:f[1],"stroke-width":7,"stroke-linejoin":"miter"},dg);
    
    
  });
  const sp=mk("rect",{x:L,y:T,width:AW,height:AH,fill:"none",stroke:"#8c8c8c","stroke-width":5},g);
  
  
  p.yt.forEach(function(v,i){
    const y=sy(v);
    const tk=mk("line",{x1:L-15,x2:L,y1:y,y2:y,stroke:"#000","stroke-width":4},g);
    
    
    const tl=mk("text",{x:L-26,y:y+17,"font-size":48,"text-anchor":"end",fill:"#000"},g);
    tl.textContent=p.ytl[i];
    
    
  });
  p.xt.forEach(function(v,i){
    const x=sx(v);
    const tk=mk("line",{x1:x,x2:x,y1:B,y2:B+15,stroke:"#000","stroke-width":4},g);
    
    
    const tl=mk("text",{x:x,y:B+68,"font-size":48,"text-anchor":"middle",fill:"#000"},g);
    tl.textContent=p.xtl[i];
    
    
  });
  const xl=mk("text",{x:L+AW/2,y:B+140,"font-size":60,"text-anchor":"middle",fill:"#000"},g);
  xl.textContent=p.label;
  
  
  if(p.sci){
    const o1=mk("text",{x:L,y:T-16,"font-size":48,fill:"#000"},g);
    o1.textContent="\u00d710";
    const s1=mk("tspan",{dy:-22,"font-size":34},o1); s1.textContent="\u22124";
    
    
    const o2=mk("text",{x:R,y:B+122,"font-size":48,"text-anchor":"end",fill:"#000"},g);
    o2.textContent="\u00d710";
    const s2=mk("tspan",{dy:-22,"font-size":34},o2); s2.textContent="4";
    
    
  }
  const LW=341, LH=287;
  let lx, ly;
  if(p.leg[0]==="u") ly=T+18; else ly=B-19-LH;
  if(p.leg[1]==="r") lx=R-20-LW; else if(p.leg[1]==="l") lx=L+20; else lx=L+AW/2-LW/2;
  const lg=mk("g",{},g);
  
  
  mk("rect",{x:lx,y:ly,width:LW,height:LH,fill:"#ffffff","fill-opacity":0.8,stroke:"#999999","stroke-width":5},lg);
  const hcol=[COL.b,COL.o,COL.g,COL.td,COL.rw];
  seriesNames.forEach(function(name,i){
    const cy=ly+32+i*55;
    const e=mk("g",{},lg);
    
    
    if(i<3){
      mk("rect",{x:lx+15,y:cy-14,width:38,height:28,fill:"#fff",stroke:hcol[i],"stroke-width":8},e);
    } else {
      mk("rect",{x:lx+18,y:cy-14,width:37,height:28,fill:hcol[i],"fill-opacity":0.7},e);
    }
    const t=mk("text",{x:lx+86,y:cy+13,"font-size":37,fill:"#000"},e);
    t.textContent=name;
  });
});
</script>
</body>
</html>
